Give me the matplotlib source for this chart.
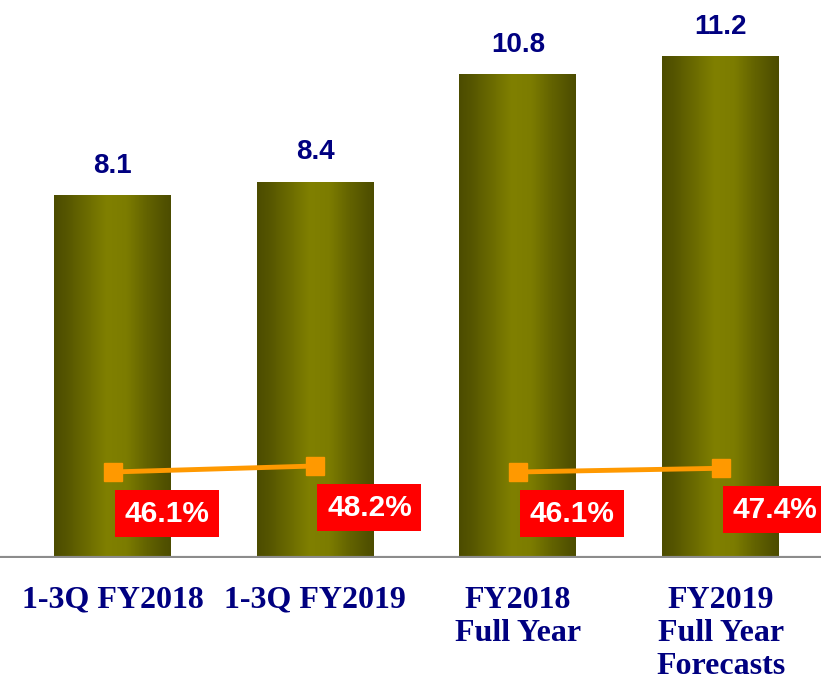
import numpy as np
import matplotlib
matplotlib.use("Agg")
import matplotlib.pyplot as plt
from matplotlib.colors import LinearSegmentedColormap

# Data
categories = ["1-3Q FY2018", "1-3Q FY2019", "FY2018\nFull Year", "FY2019\nFull Year\nForecasts"]
values = [8.1, 8.4, 10.8, 11.2]
ratios = [46.1, 48.2, 46.1, 47.4]
ratio_labels = ["46.1%", "48.2%", "46.1%", "47.4%"]

navy = "#000080"
orange = "#FF9900"

fig = plt.figure(figsize=(8.21, 6.86), dpi=100)
ax = fig.add_axes([0, 128 / 686, 1, 558 / 686])
ax.axis("off")

# cylinder-like olive gradient for bars
olive = LinearSegmentedColormap.from_list(
    "olive", [(0.0, "#4c4c00"), (0.1, "#555500"), (0.45, "#808000"),
              (0.62, "#7c7c00"), (0.8, "#626200"), (1.0, "#4c4c00")])
grad = np.linspace(0, 1, 256).reshape(1, -1)
width = 0.577
x = np.arange(len(values))
for xi, v in zip(x, values):
    ax.imshow(grad, cmap=olive, aspect="auto", interpolation="bilinear",
              extent=(xi - width / 2, xi + width / 2, 0, v), zorder=2)
    ax.text(xi, v + 0.67, f"{v:.1f}", ha="center", va="center", color=navy,
            fontsize=20, fontweight="bold", family="Liberation Sans")
    ax.text(xi, -0.62, categories[xi], ha="center", va="top", color=navy,
            fontsize=23, fontweight="bold", family="Liberation Serif",
            linespacing=1.18, clip_on=False)
ax.set_xlim(-0.555, 3.495)
ax.set_ylim(0, 12.47)

# baseline
ax.axhline(0, color="#8c8c8c", lw=3, zorder=3)

# ratio line on secondary axis
ax2 = ax.twinx()
ax2.set_ylim(16.03, 211.1)
ax2.axis("off")
for pair in [(0, 1), (2, 3)]:
    idx = list(pair)
    ax2.plot(x[idx], np.array(ratios)[idx], color=orange, lw=3.5,
             marker="s", markersize=13, zorder=5)
for xi, r, lab in zip(x, ratios, ratio_labels):
    ax2.annotate(lab, (xi, r), xytext=(39, -30), textcoords="offset points",
                 ha="center", va="center", color="white", fontsize=21.5,
                 fontweight="bold", family="Liberation Sans", zorder=6,
                 bbox=dict(boxstyle="square,pad=0.32", fc="#ff0000", ec="none"))

fig.savefig("out.png", dpi=100)
